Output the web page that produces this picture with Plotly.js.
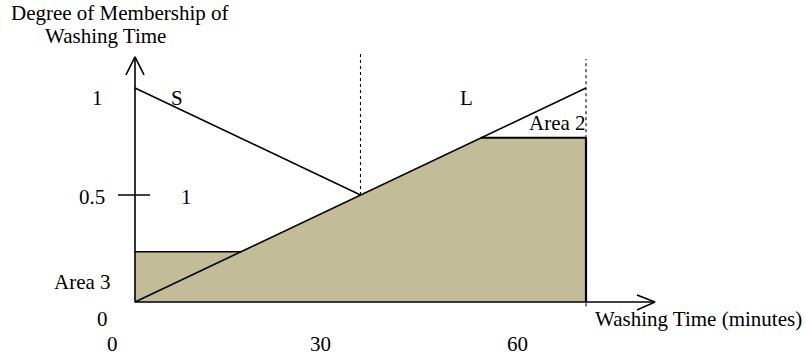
<!DOCTYPE html>
<html>
<head>
<meta charset="utf-8">
<script src="https://cdn.plot.ly/plotly-3.0.1.min.js"></script>
<style>html,body{margin:0;padding:0;background:#fff;}#chart{width:805px;height:361px;}</style>
</head>
<body>
<div id="chart"></div>
<script>
// ---- data (washing time in minutes, degree of membership) ----
const sX = [0, 30];            // "S" (short) membership line
const sY = [1, 0.5];
const lX = [0, 60];            // "L" (long) membership line
const lY = [0, 1];
const area3Level = 0.235;      // clipped level of S (Area 3)
const area2Level = 0.767;      // clipped level of L (Area 2)
const area3End = 14.1;         // where Area 3 top meets L
const area2Start = 46;         // where L reaches Area 2 level
const dottedX = [30, 60];
const dottedTop = [1.173, 1.136];
const xTickLabels = ['0', '30', '60'];
const yTickLabels = ['0', '0.5', '1'];
const xAxisEnd = 69.18;
const yAxisEnd = 1.145;

const fillX = [0, 0, area3End, area2Start, 60, 60, 0];
const fillY = [0, area3Level, area3Level, area2Level, area2Level, 0, 0];

const black = '#000';
const font = {family: 'Liberation Serif, Times New Roman, serif', size: 21, color: '#000'};

function line(x, y, w, dash) {
  return {x: x, y: y, type: 'scatter', mode: 'lines', hoverinfo: 'skip',
          line: {color: black, width: w, dash: dash || 'solid'}, showlegend: false};
}

const traces = [
  {x: fillX, y: fillY, type: 'scatter', mode: 'lines', fill: 'toself',
   fillcolor: 'rgb(194,188,152)', line: {width: 0, color: 'rgba(0,0,0,0)'}, hoverinfo: 'skip', showlegend: false},
  line([dottedX[0], dottedX[0]], [0.5, dottedTop[0]], 1.1, 'dot'),
  line([dottedX[1], dottedX[1]], [-0.02, dottedTop[1]], 1.1, 'dot'),
  line([0, area3End], [area3Level, area3Level], 1.6),
  line(lX, lY, 1.6),
  line(sX, sY, 1.6),
  line([area2Start, 60], [area2Level, area2Level], 2),
  line([60, 60], [area2Level, 0], 2.2),
  // axes
  line([0, 0], [0, yAxisEnd], 1.6),
  line([0, xAxisEnd], [0, 0], 1.6),
  line([-1.2, 0, 1.2], [1.061, yAxisEnd, 1.061], 1.6),
  line([66.78, xAxisEnd, 66.78], [0.033, 0, -0.037], 1.6),
  // 0.5 tick
  line([-2.26, 2.0], [0.5, 0.5], 1.6)
];

const W = 805, H = 361;
function ann(text, px, py) {
  return {text: text, xref: 'paper', yref: 'paper', x: px / W, y: 1 - py / H,
          xanchor: 'center', yanchor: 'middle', showarrow: false, font: font};
}

const annotations = [
  ann('Degree of Membership of', 120, 13),
  ann('Washing Time', 105, 36),
  ann(yTickLabels[2], 97, 98.5),
  ann(yTickLabels[1], 92, 196.5),
  ann(yTickLabels[0], 102, 318.5),
  ann('S', 177, 98.5),
  ann('L', 466, 98),
  ann('1', 186, 196.5),
  ann('Area 2', 557, 123),
  ann('Area 3', 82, 281.5),
  ann(xTickLabels[0], 112, 344),
  ann(xTickLabels[1], 320.5, 344),
  ann(xTickLabels[2], 517, 344),
  ann('Washing Time (minutes)', 698, 318.5)
];

const pxPerX = 451 / 60, pxPerY = 214;
const layout = {
  width: W, height: H,
  margin: {l: 0, r: 0, t: 0, b: 0, pad: 0},
  paper_bgcolor: '#fff', plot_bgcolor: '#fff',
  xaxis: {range: [-135 / pxPerX, (W - 135) / pxPerX], visible: false, fixedrange: true},
  yaxis: {range: [-(H - 302) / pxPerY, 302 / pxPerY], visible: false, fixedrange: true},
  annotations: annotations,
  showlegend: false
};

Plotly.newPlot('chart', traces, layout, {displayModeBar: false, staticPlot: true});
</script>
</body>
</html>
